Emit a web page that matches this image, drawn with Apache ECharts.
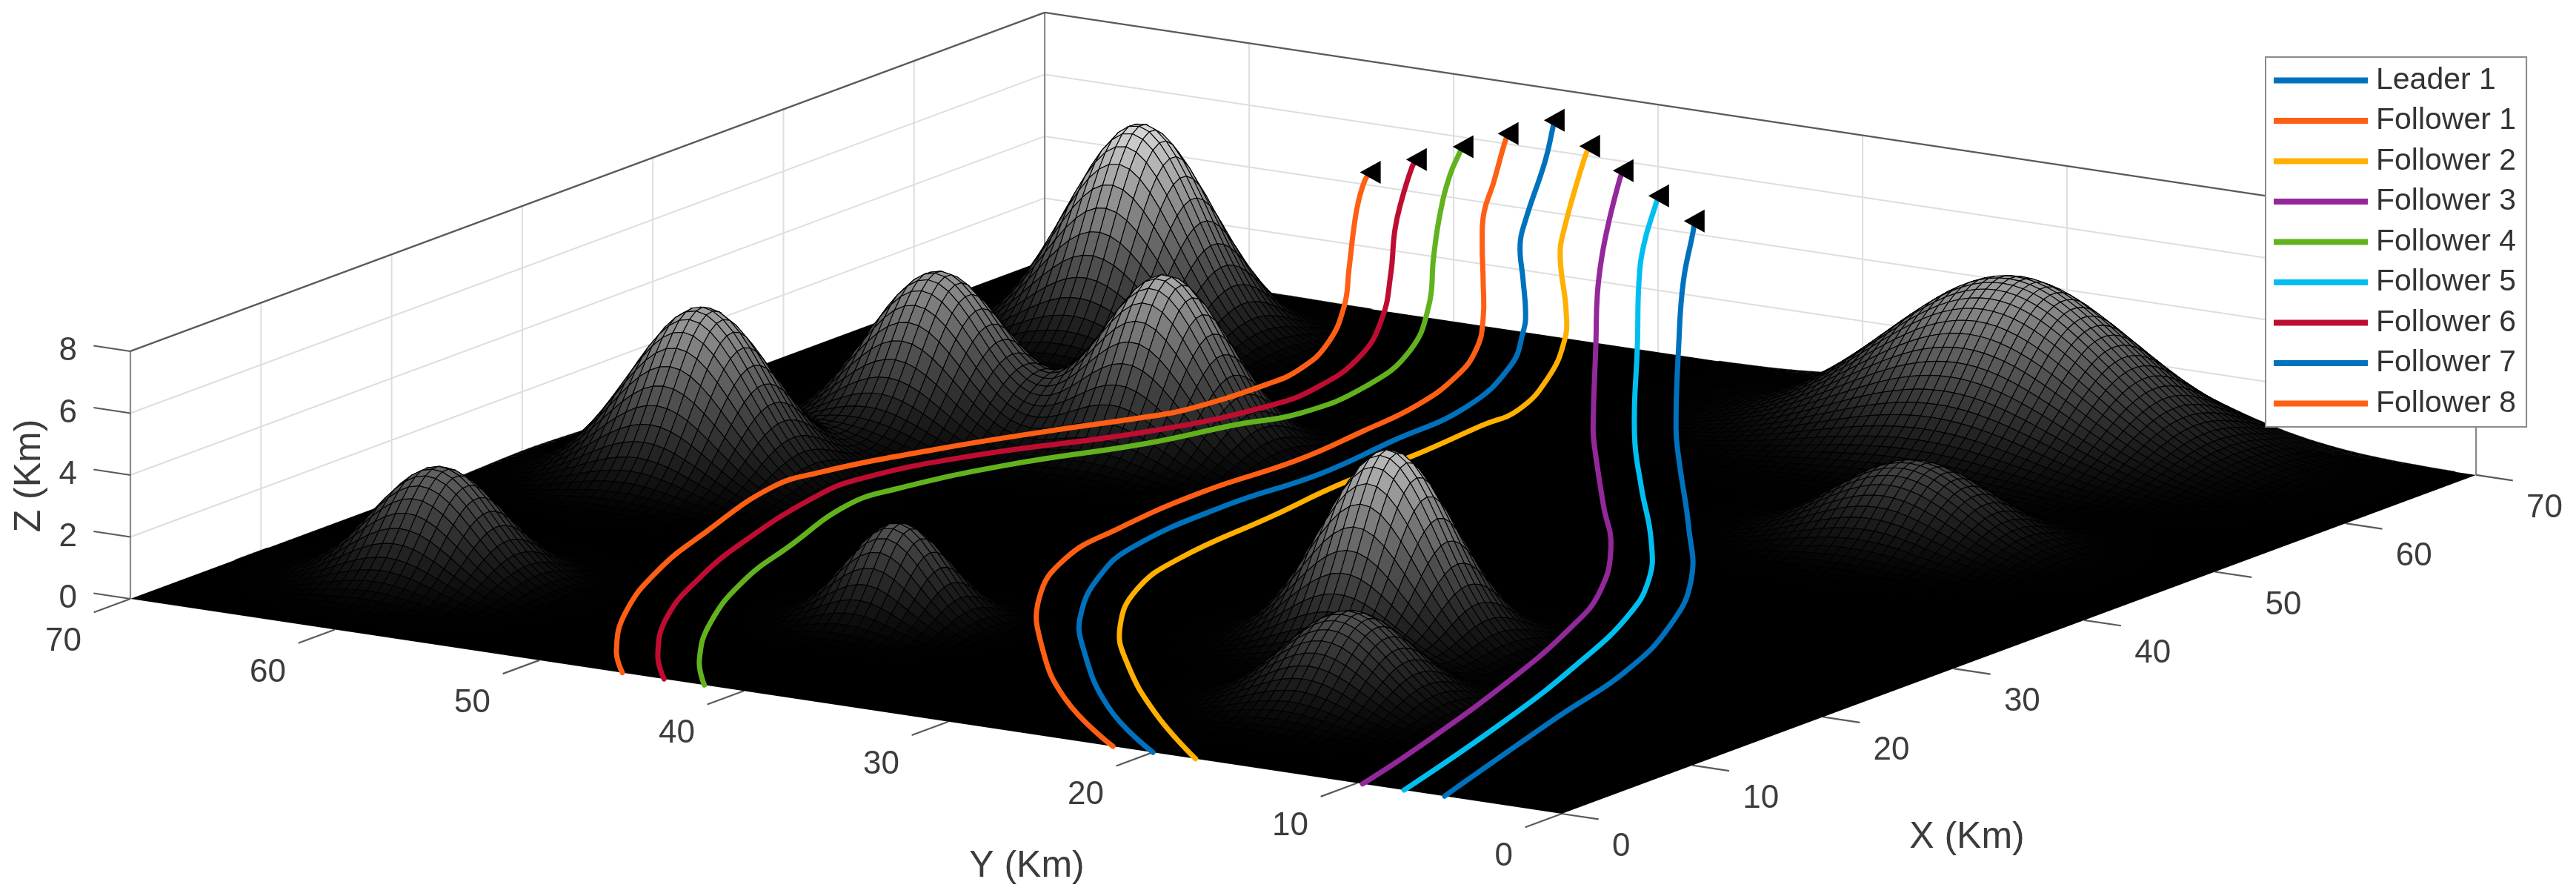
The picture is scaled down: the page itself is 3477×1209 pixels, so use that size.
<!DOCTYPE html>
<html>
<head>
<meta charset="utf-8">
<style>html,body{margin:0;padding:0;background:#fff}#c{width:3477px;height:1209px}</style>
<script src="https://cdn.jsdelivr.net/npm/echarts@6/dist/echarts.min.js"></script>
</head>
<body>
<div id="c"></div>
<script>
// ---- tick labels ----
const xTicks = [0, 10, 20, 30, 40, 50, 60, 70];
const yTicks = [0, 10, 20, 30, 40, 50, 60, 70];
const zTicks = [0, 2, 4, 6, 8];

// ---- terrain peaks (km) ----
const peakX  = [60.2, 44.4, 30.4, 42.2,  9.3, 13.5, 21.0, 10.9, 64.2, 47.3];
const peakY  = [59.1, 47.8, 61.5, 57.5, 60.9, 41.1, 21.9, 17.4, 19.0, 13.0];
const peakH  = [ 7.0,  5.7,  5.5,  5.2,  3.7,  3.2,  6.3,  3.1,  5.4,  2.7];
const peakAX = [ 4.3,  3.9,  4.2,  4.1,  3.8,  3.0,  3.9,  3.9,  6.0,  4.0];
const peakAY = [ 4.3,  3.9,  4.2,  4.1,  3.8,  3.0,  3.9,  3.9,  8.0,  5.0];

// ---- trajectories [X, Y, Z] in km ----
const leader1 = [[0,19.99,0],[3.92,24.68,.39],[9.77,29.68,.96],[12.9,31.76,1.27],[16.94,33.47,1.67],[20.44,34.09,2.02],[26.17,33.14,2.58],[30.84,31.5,3.04],[35.15,30.81,3.47],[39.84,30.11,3.93],[44.72,31.06,4.41],[48.37,32.78,4.77],[50.21,33.84,4.95],[53.63,36.15,5.29],[57.13,38.53,5.63],[59.69,39.9,5.89],[66,42.97,6.51],[69.43,44.79,6.85],[70.28,45.26,6.93]];
const follower1 = [[0,21.95,0],[4.09,26.89,.4],[9.15,31.28,.9],[13.92,34.45,1.37],[18.31,35.98,1.81],[22.1,35.87,2.18],[27.16,34.94,2.68],[31.84,33.29,3.14],[35.78,32.59,3.53],[39.23,32.15,3.87],[42.85,32.51,4.22],[45.93,33.5,4.53],[49.04,35.17,4.84],[52.8,37.57,5.21],[56.55,40.01,5.58],[59.81,42.01,5.9],[62.96,43.56,6.21],[67.19,45.72,6.62],[68.22,46.2,6.73]];
const follower2 = [[0,17.91,0],[4.1,22.52,.4],[8.78,26.89,.87],[12.22,29.41,1.2],[16.23,31.17,1.6],[20.03,31.54,1.97],[25.84,30.62,2.55],[29.99,30.05,2.96],[34.16,29.01,3.37],[38.18,28.32,3.76],[40.33,27.88,3.98],[44.01,28.79,4.34],[48.02,30.55,4.73],[51.06,32.4,5.03],[56.46,36.14,5.57],[59.3,37.77,5.85],[66.9,41.62,6.6],[68.19,42.19,6.72]];
const follower3 = [[0,9.74,0],[4.31,9.92,.42],[12.74,10.68,1.26],[19.1,11.74,1.88],[22.99,12.85,2.27],[27.75,15.32,2.74],[31.92,18.35,3.15],[37.65,22.44,3.71],[39.66,23.8,3.91],[48.28,29.17,4.76],[53.26,32.28,5.25],[57.09,34.51,5.63],[60.96,36.62,6.01],[65.41,38.93,6.45],[66.21,39.29,6.53]];
const follower4 = [[0,41.93,0],[2.5,43.77,.25],[6.43,45.74,.63],[11.23,47.15,1.11],[15.38,47.59,1.52],[20.39,48,2.01],[22.78,47.14,2.25],[26.99,44.3,2.66],[31.3,40.23,3.09],[34.5,38.01,3.4],[36.72,36.19,3.62],[40.5,35.39,3.99],[44.69,35.97,4.41],[49.49,38.12,4.88],[54.53,41.1,5.38],[59.14,43.72,5.83],[63.05,45.75,6.22],[65.44,46.82,6.45],[66.18,47.1,6.53]];
const follower5 = [[0,7.71,0],[8.98,8.28,.89],[15.69,9.13,1.55],[21,10.21,2.07],[25.09,11.77,2.47],[29.12,14.23,2.87],[34.38,18.07,3.39],[39.62,21.75,3.91],[48.91,27.54,4.82],[55.18,31.47,5.44],[59.01,33.68,5.82],[63.49,35.93,6.26],[64.2,36.27,6.33]];
const follower6 = [[0,43.9,0],[2.4,45.74,.24],[6.3,47.79,.62],[10.77,49.06,1.06],[15.22,49.69,1.5],[20.62,49.81,2.03],[23.19,49.24,2.29],[27.32,46.34,2.69],[32.5,41,3.2],[36.88,37.93,3.64],[39.6,37.24,3.9],[43.41,37.57,4.28],[47.5,39.14,4.68],[52.14,41.67,5.14],[56.72,44.39,5.59],[59.83,46.05,5.9],[63.37,47.8,6.25],[64.19,48.11,6.33]];
const follower7 = [[0,5.73,0],[9.7,6.42,.96],[15.59,6.75,1.54],[20.83,7.99,2.05],[25.74,10.11,2.54],[31.04,13.62,3.06],[37.66,18.32,3.71],[40.92,20.55,4.03],[49.54,25.92,4.88],[55.85,29.73,5.51],[61.27,32.7,6.04],[62.18,33.24,6.13]];
const follower8 = [[0,45.94,0],[2.22,47.65,.22],[6.11,49.7,.6],[10.89,51.17,1.07],[15.62,51.8,1.54],[21.04,52.12,2.07],[23.36,51.2,2.3],[27.35,48.21,2.7],[30.96,44.98,3.05],[34,41.96,3.35],[35.26,40.91,3.48],[39.14,39.38,3.86],[41.23,39.08,4.07],[44.19,39.67,4.36],[48.2,41.43,4.75],[52.03,43.64,5.13],[56.63,46.32,5.58],[59.18,47.73,5.84],[61.38,48.82,6.05],[62.21,49.1,6.13]];

const names  = ['Leader 1','Follower 1','Follower 2','Follower 3','Follower 4','Follower 5','Follower 6','Follower 7','Follower 8'];
const paths  = [leader1,follower1,follower2,follower3,follower4,follower5,follower6,follower7,follower8];
const colors = ['#0072BD','#FF5F14','#FFB000','#93289A','#62B21E','#00BFF0','#BE0D31','#0072BD','#FF5F14'];

// ---- orthographic view of the 3-D box ----
function project(X, Y, Z) {
  return [2108 + 17.63 * X - 27.6 * Y, 1098 - 6.53 * X - 4.143 * Y - 41.75 * Z];
}
function terrain(X, Y) {
  let z = 0;
  for (let i = 0; i < peakX.length; i++) {
    const a = (X - peakX[i]) / peakAX[i], b = (Y - peakY[i]) / peakAY[i];
    z += peakH[i] * Math.exp(-a * a - b * b);
  }
  return z;
}

// ---- surface cells, far to near ----
const cells = [], frontCells = [];
const STEP = 0.5;
for (let X = 70 - STEP; X >= 0; X -= STEP) {
  for (let Y = 70 - STEP; Y >= 0; Y -= STEP) {
    const c = [[X,Y],[X+STEP,Y],[X+STEP,Y+STEP],[X,Y+STEP]].map(p => [p[0], p[1], terrain(p[0], p[1])]);
    const mean = (c[0][2] + c[1][2] + c[2][2] + c[3][2]) / 4;
    if (Math.max(c[0][2], c[1][2], c[2][2], c[3][2]) < 0.02) continue;
    const row = [];
    c.forEach(p => { const s = project(p[0], p[1], p[2]); row.push(s[0], s[1]); });
    row.push(mean);
    cells.push(row);
    if (X >= 15 && X <= 29 && Y >= 15 && Y <= 29 && mean > 2.5) frontCells.push(row);
  }
}
function renderCell(params, api) {
  const pts = [];
  for (let i = 0; i < 4; i++) pts.push(api.coord([api.value(2 * i), api.value(2 * i + 1)]));
  const g = Math.min(255, Math.round(Math.pow(api.value(8) / 8, 1.2) * 255));
  const edge = Math.min(1, 0.25 + api.value(8) / 1.2);
  return {
    type: 'polygon',
    shape: { points: pts },
    style: { fill: 'rgb(' + g + ',' + g + ',' + g + ')', stroke: 'rgba(0,0,0,' + edge + ')', lineWidth: 1.1 }
  };
}

// ---- frame: walls, grid, ticks ----
const segs = [];
function seg(a, b, kind) { const p = project(a[0],a[1],a[2]), q = project(b[0],b[1],b[2]); segs.push([p[0],p[1],q[0],q[1],kind]); }
zTicks.slice(1, -1).forEach(z => { seg([0,70,z],[70,70,z],0); seg([70,70,z],[70,0,z],0); });
xTicks.slice(1, -1).forEach(x => seg([x,70,0],[x,70,8],0));
yTicks.slice(1, -1).forEach(y => seg([70,y,0],[70,y,8],0));
seg([0,70,0],[0,70,8],1); seg([70,70,0],[70,70,8],1); seg([70,0,0],[70,0,8],1);
seg([0,70,8],[70,70,8],2); seg([70,70,8],[70,0,8],2);
xTicks.forEach(x => seg([x,0,0],[x,-1.8,0],3));
yTicks.forEach(y => seg([0,y,0],[-2.8,y,0],3));
zTicks.forEach(z => seg([0,70,z],[0,71.8,z],3));
const segStyle = [['#dedede',2],['#8a8a8a',2.2],['#5a5a5a',2.4],['#5a5a5a',2.2]];

// ---- floor ----
const floor = [[0,0],[70,0],[70,70],[0,70]].map(p => project(p[0], p[1], 0));

// ---- text ----
const texts = [];
const tickFont = '44px "Liberation Sans", Arial, sans-serif';
const titleFont = '50px "Liberation Sans", Arial, sans-serif';
xTicks.forEach(x => { const p = project(x,0,0); texts.push([p[0]+68, p[1]+45, String(x), 'left', 0, tickFont]); });
yTicks.forEach(y => { const p = project(0,y,0); texts.push([p[0]-66, p[1]+58, String(y), 'right', 0, tickFont]); });
zTicks.forEach(z => { const p = project(0,70,z); texts.push([p[0]-72, p[1], String(z), 'right', 0, tickFont]); });
texts.push([2655,1130,'X (Km)','center',0,titleFont]);
texts.push([1386,1169,'Y (Km)','center',0,titleFont]);
texts.push([40,642,'Z (Km)','center',Math.PI/2,titleFont]);

const chart = echarts.init(document.getElementById('c'), null, { renderer: 'canvas', width: 3477, height: 1209 });
const series = [
  { name:'frame', type:'custom', z:1, silent:true, clip:false, coordinateSystem:'cartesian2d', data:segs, encode:{x:0,y:1},
    renderItem(params, api){
      const a = api.coord([api.value(0),api.value(1)]), b = api.coord([api.value(2),api.value(3)]);
      const s = segStyle[api.value(4)];
      return {type:'line',shape:{x1:a[0],y1:a[1],x2:b[0],y2:b[1]},style:{stroke:s[0],lineWidth:s[1]}};
    }},
  { name:'floor', type:'custom', z:2, silent:true, clip:false, coordinateSystem:'cartesian2d', data:[floor.flat()], encode:{x:0,y:1},
    renderItem(params, api){
      const pts=[]; for(let i=0;i<4;i++) pts.push(api.coord([api.value(2*i),api.value(2*i+1)]));
      return {type:'polygon',shape:{points:pts},style:{fill:'#000'}};
    }},
  { name:'surface', type:'custom', z:3, silent:true, clip:false, progressive:0, coordinateSystem:'cartesian2d', data:cells, encode:{x:0,y:1}, renderItem:renderCell },
];
paths.forEach((p,i) => {
  const screen = p.map(q => project(q[0],q[1],q[2]));
  series.push({
    name:names[i], type:'custom', z:4, silent:true, clip:false, coordinateSystem:'cartesian2d', progressive:0,
    itemStyle:{color:colors[i]}, data:screen, encode:{x:0,y:1},
    renderItem(params, api){
      if (params.dataIndex !== 0) return null;
      return {type:'polyline', shape:{points:screen.map(s => api.coord(s)), smooth:0.45},
              style:{fill:null, stroke:colors[i], lineWidth:7, lineCap:'round', lineJoin:'round'}};
    }
  });
});
series.push({ name:'surfaceFront', type:'custom', z:5, silent:true, clip:false, progressive:0, coordinateSystem:'cartesian2d', data:frontCells, encode:{x:0,y:1}, renderItem:renderCell });
series.push({ name:'arrows', type:'scatter', z:6, silent:true, clip:false, symbol:'triangle', symbolRotate:90, symbolSize:[31,28],
  itemStyle:{color:'#000',opacity:1}, data:paths.map(p => { const q=p[p.length-1]; return project(q[0],q[1],q[2]); }) });
series.push({ name:'labels', type:'custom', z:7, silent:true, clip:false, coordinateSystem:'cartesian2d', data:texts.map((t,i)=>[t[0],t[1],i]), encode:{x:0,y:1},
  renderItem(params, api){
    const t = texts[api.value(2)], a = api.coord([api.value(0),api.value(1)]);
    return {type:'text',x:a[0],y:a[1],rotation:t[4],style:{text:t[2],font:t[5],fill:'#3c3c3c',align:t[3],verticalAlign:'middle'}};
  }});

chart.setOption({
  animation:false,
  backgroundColor:'#fff',
  grid:{left:0,right:0,top:0,bottom:0,containLabel:false},
  xAxis:{type:'value',min:0,max:3477,show:false},
  yAxis:{type:'value',min:0,max:1209,inverse:true,show:false},
  legend:{
    data:names, orient:'vertical', left:3058, top:77, z:20,
    backgroundColor:'#fff', borderColor:'#8a8a8a', borderWidth:2, borderRadius:0,
    padding:[11,14,11,11], itemWidth:127, itemHeight:8, itemGap:13.5, icon:'rect',
    selectedMode:false,
    textStyle:{fontFamily:'"Liberation Sans", Arial, sans-serif',fontSize:41,color:'#333',lineHeight:41,padding:[0,0,0,6]}
  },
  series
});
</script>
</body>
</html>
